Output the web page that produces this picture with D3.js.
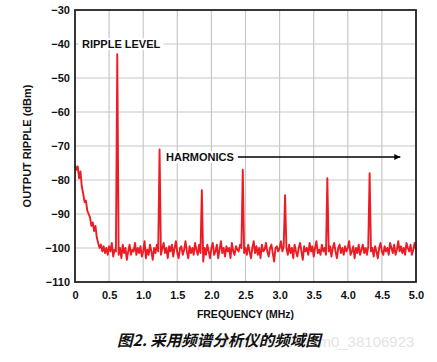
<!DOCTYPE html>
<html><head><meta charset="utf-8">
<script src="https://cdn.jsdelivr.net/npm/d3@7"></script>
<style>body{margin:0;background:#fff}svg{display:block}</style>
</head><body>
<script>
const freqStart = 0, freqStep = 0.02;
const rippleDbm = [
-75.5,-77,-76,-79.5,-77.5,-82,-84,-86.5,-86,-89,
-90,-91,-93.5,-92.5,-95,-93.5,-97,-98.5,-100,-99,
-101,-99.5,-101.5,-100,-102,-99.5,-101,-98.5,-102.5,-100.5,
-101,-43,-102,-100,-103,-99,-101.5,-100,-103.5,-101,
-99,-102,-100.5,-101,-98.5,-102,-100,-101.5,-99.5,-102.5,
-101,-98,-103,-100.5,-102,-99,-101,-103.5,-100,-101.5,
-99,-101,-71,-102,-100,-98.5,-101.5,-100,-103,-99.5,
-101,-99,-102.5,-100,-98,-101.5,-103,-100,-99.5,-102,
-100.5,-98,-101,-103,-99.5,-101.5,-100,-102,-98.5,-100.5,
-102,-99,-101.5,-83,-104,-100,-102,-99,-101,-103,
-100,-98.5,-102,-101,-99,-103,-100.5,-98,-101.5,-100,
-102.5,-99.5,-101,-100,-103,-98.5,-101,-102,-99.5,-100.5,
-101,-99,-100,-77,-101.5,-100,-102,-99,-101,-103,
-100,-98,-101.5,-99.5,-102,-100,-103,-99,-101,-100.5,
-98.5,-101,-102.5,-100,-99,-101.5,-104,-100,-99.5,-101,
-100,-98,-101,-99.5,-84.5,-100,-102,-99,-101.5,-100,
-103,-99,-101,-102.5,-100,-98.5,-101,-103.5,-99.5,-101,
-100,-102,-98.5,-101,-99.5,-102.5,-100,-98,-101.5,-100.5,
-102,-99,-101,-100,-102,-79.5,-101,-99.5,-102.5,-100,
-98.5,-101,-103,-100,-99,-101.5,-100,-102,-99.5,-101,
-100,-98,-102,-101,-99.5,-103,-100,-101.5,-99,-102,
-100.5,-99,-101.5,-100,-102,-99.5,-78,-101,-100,-102.5,
-99.5,-101,-103,-100,-98.5,-101,-102,-99.5,-101,-100,
-102,-98.5,-100,-101.5,-99,-102,-100.5,-98,-101,-99.5,
-101.5,-100,-102,-98.5,-100,-101,-99,-102,-100.5,-98.5,
-100.5
];
const xTicks = [0,0.5,1.0,1.5,2.0,2.5,3.0,3.5,4.0,4.5,5.0];
const yTicks = [-30,-40,-50,-60,-70,-80,-90,-100,-110];
const xTitle = "FREQUENCY (MHz)";
const yTitle = "OUTPUT RIPPLE (dBm)";
const annoRipple = "RIPPLE LEVEL";
const annoHarm = "HARMONICS";
const caption = "图2. 采用频谱分析仪的频域图";
const watermark = "https://blog.csdn.net/m0_38106923";

const W = 437, H = 362;
const L = 75, T = 10, R = 416, B = 282;
const svg = d3.select("body").append("svg").attr("width", W).attr("height", H);
const x = d3.scaleLinear().domain([0,5]).range([L,R]);
const y = d3.scaleLinear().domain([-110,-30]).range([B,T]);
const font = "'Liberation Sans', Arial, Helvetica, sans-serif";

// grid
const g = svg.append("g");
g.selectAll("line.v").data(xTicks.slice(1,-1)).join("line")
  .attr("x1", d=>x(d)).attr("x2", d=>x(d)).attr("y1", T).attr("y2", B)
  .attr("stroke", "#c8c8c8").attr("stroke-width", 1.2);
g.selectAll("line.h").data(yTicks.slice(1,-1)).join("line")
  .attr("x1", L).attr("x2", R).attr("y1", d=>y(d)).attr("y2", d=>y(d))
  .attr("stroke", "#c8c8c8").attr("stroke-width", 1.2);

// axes labels
const xAxis = d3.axisBottom(x).tickValues(xTicks).tickSize(0).tickPadding(9)
  .tickFormat(d => d===0 ? "0" : d3.format(".1f")(d));
svg.append("g").attr("transform", `translate(0,${B})`).call(xAxis)
  .call(a => a.select(".domain").remove())
  .selectAll("text").attr("font-family", font).attr("font-weight", "bold").attr("font-size", 11).attr("fill", "#111");
const yAxis = d3.axisLeft(y).tickValues(yTicks).tickSize(0).tickPadding(5)
  .tickFormat(d => (d<0 ? "\u2212" : "") + Math.abs(d));
svg.append("g").attr("transform", `translate(${L},0)`).call(yAxis)
  .call(a => a.select(".domain").remove())
  .selectAll("text").attr("font-family", font).attr("font-weight", "bold").attr("font-size", 11).attr("fill", "#111");

// annotations with white background
function boxedText(tx, ty, str) {
  const t = svg.append("text").attr("x", tx).attr("y", ty).text(str)
    .attr("font-family", font).attr("font-weight", "bold").attr("font-size", 11).attr("fill", "#111");
  const bb = t.node().getBBox();
  svg.insert("rect", () => t.node()).attr("x", bb.x-3).attr("y", bb.y).attr("width", bb.width+6).attr("height", bb.height)
    .attr("fill", "#fff");
  return bb;
}
boxedText(82, 48, annoRipple);
const hb = boxedText(166, 161, annoHarm);

// data line
const data = rippleDbm.map((v,i) => [freqStart + i*freqStep, v]);
svg.append("path").datum(data)
  .attr("d", d3.line().x(d=>x(d[0])).y(d=>y(d[1])))
  .attr("fill", "none").attr("stroke", "#ed1c24").attr("stroke-width", 1.9).attr("stroke-linejoin", "round");

// arrow
svg.append("defs").append("marker").attr("id","ah").attr("viewBox","0 0 10 10")
  .attr("refX",10).attr("refY",5).attr("markerWidth",11).attr("markerHeight",6).attr("markerUnits","userSpaceOnUse").attr("orient","auto")
  .append("path").attr("d","M0,0L10,5L0,10Z").attr("fill","#000");
svg.append("line").attr("x1", hb.x+hb.width+4).attr("x2", x(4.77)).attr("y1", 157).attr("y2", 157)
  .attr("stroke","#000").attr("stroke-width",1.3).attr("marker-end","url(#ah)");

// frame
svg.append("rect").attr("x", L).attr("y", T).attr("width", R-L).attr("height", B-T)
  .attr("fill","none").attr("stroke","#222").attr("stroke-width",1.8);

// titles
svg.append("text").attr("transform", `translate(31,${(T+B)/2}) rotate(-90)`).attr("text-anchor","middle")
  .attr("font-family", font).attr("font-weight","bold").attr("font-size",11).attr("fill","#111").text(yTitle);
svg.append("text").attr("x", (L+R)/2).attr("y", 318).attr("text-anchor","middle")
  .attr("font-family", font).attr("font-weight","bold").attr("font-size",10.5).attr("fill","#111").text(xTitle);

// watermark & caption
svg.append("text").attr("x", 180).attr("y", 347).attr("font-family", font).attr("font-size", 15)
  .attr("fill","#e4e4e4").text(watermark);
svg.append("text").attr("x", 117).attr("y", 346).attr("font-family", "'Noto Sans CJK SC', sans-serif")
  .attr("font-weight","bold").attr("font-style","italic").attr("font-size",15.5).attr("fill","#111").text(caption);
</script>
</body></html>
